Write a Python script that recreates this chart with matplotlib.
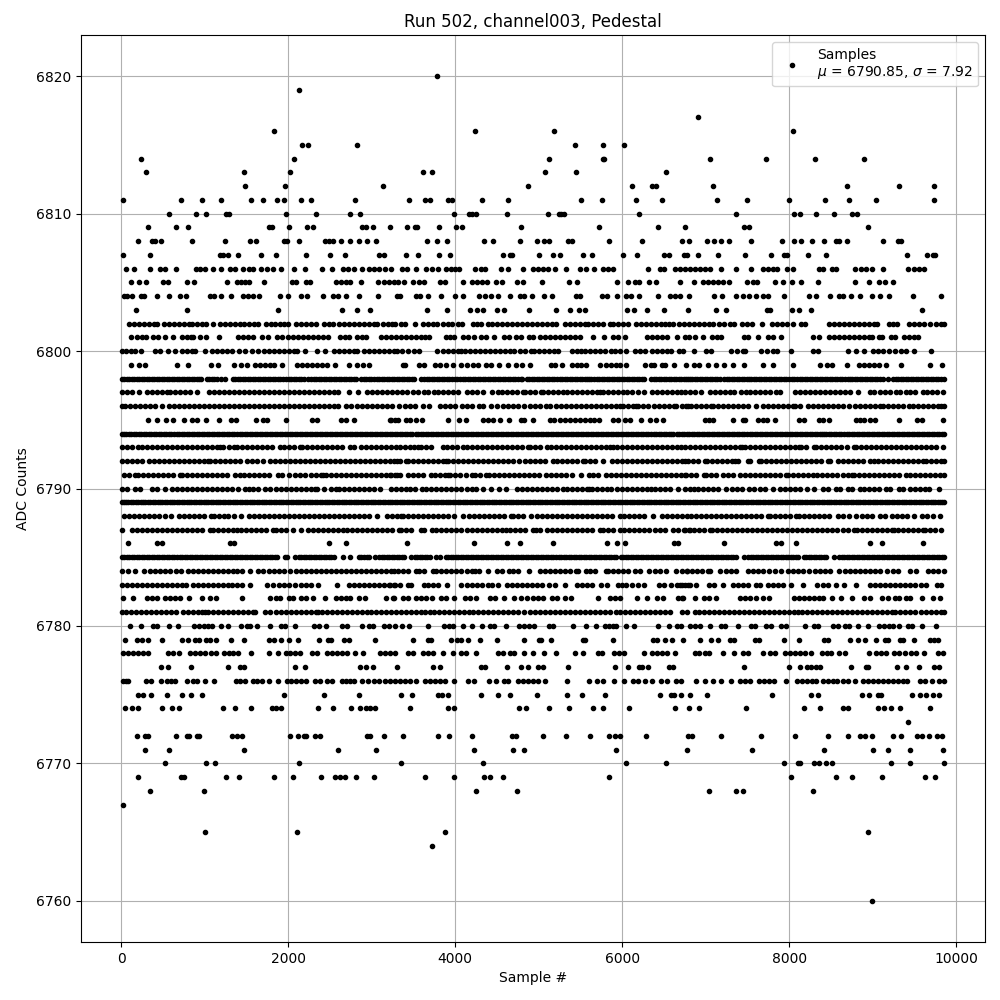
import matplotlib
matplotlib.use("Agg")
import matplotlib.pyplot as plt

adc_6820 = [3780]
adc_6819 = [2124]
adc_6817 = [6912]
adc_6816 = [1824, 4236, 5184, 8052]
adc_6815 = [2160, 2232, 2820, 5436, 5772, 6024]
adc_6814 = [240, 2064, 5124, 5772, 5788, 7056, 7728, 8316, 8892]
adc_6813 = [300, 1476, 2016, 3612, 3720, 5076, 5448, 6528]
adc_6812 = [1488, 1956, 3132, 4872, 6120, 6360, 6408, 7092, 8688, 9312, 9732]
adc_6811 = [24, 720, 972, 1200, 1560, 1704, 1860, 1944, 2148, 2268, 2796, 3444, 3636, 3700, 3912, 3960, 4320, 4632, 5508, 5760, 6168, 6480, 7140, 7500, 8004, 8436, 8712, 9036, 9732]
adc_6810 = [576, 892, 1020, 1260, 1296, 1968, 2328, 2736, 2856, 3984, 4164, 4200, 4252, 4620, 5112, 5244, 5272, 5308, 6204, 7368, 8064, 8136, 8328, 8544, 8748, 8808]
adc_6809 = [324, 660, 804, 1776, 1804, 2004, 2220, 2292, 2880, 2928, 3012, 3216, 3420, 3516, 3544, 3804, 4008, 4080, 4788, 5724, 6432, 6756, 7464, 7524, 8948]
adc_6808 = [204, 372, 404, 480, 852, 1244, 1548, 1620, 1944, 1984, 2124, 2436, 2484, 2532, 2628, 2736, 2844, 2940, 3048, 3660, 3780, 3900, 4344, 4452, 4776, 4980, 5064, 5124, 5352, 5400, 5844, 6240, 6720, 6804, 7020, 7104, 7188, 7284, 7548, 7920, 8064, 8148, 8280, 8424, 8568, 8604, 8688, 9120, 9300, 9336]
adc_6807 = [24, 348, 1188, 1224, 1284, 1404, 1680, 1848, 2208, 2496, 2676, 3084, 3144, 3408, 3552, 3804, 3936, 4572, 4656, 4680, 5004, 5172, 5256, 5532, 5640, 6012, 6180, 6504, 6564, 6744, 6780, 6912, 7152, 7476, 7788, 7944, 7980, 8232, 8448, 9408, 9648, 9720, 9744]
adc_6806 = [60, 156, 348, 468, 524, 660, 900, 948, 1008, 1104, 1200, 1308, 1368, 1464, 1536, 1584, 1680, 1752, 1812, 1908, 2064, 2196, 2400, 2520, 2652, 2712, 2784, 2880, 2964, 3024, 3084, 3156, 3228, 3360, 3420, 3528, 3648, 3720, 3792, 3888, 3948, 3996, 4044, 4236, 4308, 4356, 4548, 4632, 4812, 4932, 4992, 5052, 5112, 5196, 5328, 5496, 5568, 5664, 5772, 5832, 5892, 6312, 6456, 6504, 6636, 6696, 6756, 6816, 6876, 6936, 6996, 7056, 7188, 7368, 7548, 7692, 7752, 7812, 7860, 7980, 8052, 8364, 8412, 8520, 8568, 8784, 8856, 8916, 8988, 9120, 9420, 9492, 9552, 9612]
adc_6805 = [116, 212, 300, 504, 564, 792, 876, 1264, 1392, 1440, 1488, 1536, 1716, 2040, 2088, 2208, 2256, 2568, 2628, 2688, 2736, 2868, 3072, 3144, 3204, 3264, 3312, 3384, 3492, 3564, 3624, 3816, 3876, 4092, 4200, 4260, 4320, 4380, 4488, 4560, 4740, 4812, 5040, 5364, 5460, 5940, 6072, 6156, 6204, 6324, 6408, 6696, 6864, 6972, 7032, 7092, 7152, 7212, 7284, 7500, 7572, 7620, 7836, 7932, 8040, 8148, 8352, 8784, 8952, 9072, 9144, 9240]
adc_6804 = [36, 72, 132, 240, 276, 432, 576, 708, 780, 1068, 1116, 1200, 1320, 1464, 1524, 1584, 1656, 1900, 2000, 2148, 2220, 2412, 2532, 2592, 2696, 2844, 3072, 3300, 3336, 3528, 3576, 3672, 3828, 3996, 4092, 4284, 4356, 4428, 4512, 4656, 4776, 4824, 4920, 5064, 5160, 5448, 5496, 5760, 5820, 5940, 6048, 6108, 6204, 6432, 6576, 6636, 6696, 6804, 7104, 7200, 7368, 7452, 7524, 7608, 7692, 7752, 7944, 8244, 8328, 8496, 8604, 8640, 8736, 8844, 8988, 9084, 9192, 9480, 9816]
adc_6803 = [180, 792, 1872, 2640, 2820, 2976, 3660, 3900, 4176, 4260, 4332, 4500, 4584, 4884, 5208, 5376, 5484, 5556, 6060, 6144, 6300, 6504, 6792, 7128, 7248, 7740, 7772, 8040, 8124, 8268, 9596]
adc_6802 = [92, 150, 212, 268, 330, 392, 424, 510, 570, 628, 690, 748, 806, 844, 910, 968, 1020, 1096, 1180, 1240, 1300, 1360, 1418, 1476, 1530, 1590, 1644, 1730, 1790, 1846, 1900, 1944, 2000, 2090, 2150, 2210, 2270, 2336, 2430, 2488, 2540, 2610, 2664, 2730, 2790, 2850, 2910, 2970, 3030, 3066, 3130, 3190, 3240, 3284, 3350, 3404, 3516, 3610, 3670, 3730, 3788, 3850, 3910, 3968, 4030, 4084, 4210, 4262, 4304, 4390, 4440, 4500, 4562, 4620, 4680, 4740, 4800, 4860, 4918, 4980, 5040, 5100, 5160, 5212, 5316, 5376, 5436, 5496, 5550, 5596, 5656, 5716, 5776, 5850, 5896, 5956, 6016, 6070, 6168, 6228, 6288, 6348, 6408, 6468, 6510, 6556, 6610, 6676, 6736, 6796, 6856, 6916, 6976, 7036, 7090, 7156, 7216, 7290, 7344, 7436, 7496, 7550, 7672, 7796, 7856, 7916, 7976, 8050, 8144, 8190, 8476, 8536, 8596, 8656, 8716, 8776, 8836, 8896, 8956, 9016, 9050, 9196, 9250, 9290, 9436, 9496, 9556, 9616, 9690, 9756, 9816, 9850]
adc_6801 = [112, 188, 244, 300, 380, 444, 528, 620, 728, 784, 840, 864, 948, 1014, 1176, 1396, 1462, 1520, 1576, 1688, 1762, 1868, 1924, 1996, 2056, 2116, 2176, 2236, 2296, 2356, 2416, 2478, 2620, 2680, 2724, 2820, 2884, 2936, 3108, 3168, 3228, 3288, 3348, 3408, 3468, 3528, 3588, 3644, 3688, 3888, 3940, 3984, 4088, 4148, 4222, 4308, 4368, 4462, 4580, 4644, 4728, 4788, 4882, 4932, 5012, 5072, 5132, 5192, 5252, 5312, 5372, 5432, 5492, 5652, 5784, 5896, 5956, 6030, 6296, 6356, 6416, 6476, 6538, 6652, 6756, 6804, 6876, 6972, 7076, 7136, 7190, 7456, 7510, 7632, 7744, 7812, 7908, 8288, 8362, 8476, 8536, 8596, 8656, 8716, 8776, 8836, 8896, 8956, 8990, 9072, 9112, 9224, 9270, 9376, 9436, 9496, 9550]
adc_6800 = [10, 60, 120, 170, 240, 408, 462, 564, 648, 728, 788, 842, 882, 1008, 1088, 1148, 1208, 1262, 1324, 1408, 1482, 1568, 1642, 1708, 1768, 1828, 1888, 1948, 2008, 2068, 2102, 2196, 2348, 2442, 2548, 2608, 2668, 2728, 2788, 2824, 2904, 2964, 3024, 3084, 3142, 3208, 3268, 3304, 3364, 3436, 3510, 3564, 3780, 3856, 3916, 3976, 4036, 4070, 4120, 4180, 4240, 4300, 4360, 4420, 4480, 4540, 4600, 4660, 4710, 4776, 4836, 4910, 4940, 5008, 5068, 5128, 5190, 5232, 5396, 5456, 5510, 5556, 5616, 5676, 5736, 5796, 5870, 5916, 5976, 6050, 6156, 6216, 6270, 6356, 6416, 6476, 6536, 6590, 6676, 6730, 6856, 7008, 7062, 7308, 7382, 7444, 7476, 7668, 7730, 7808, 7850, 8020, 8288, 8342, 8704, 8804, 8892, 9008, 9068, 9128, 9200, 9268, 9342, 9404, 9496, 9700]
adc_6799 = [116, 212, 284, 672, 804, 1080, 1164, 1356, 1440, 1504, 1600, 1660, 1720, 1780, 1824, 1920, 2108, 2168, 2228, 2288, 2348, 2408, 2468, 2562, 2728, 2822, 2896, 2964, 3380, 3404, 3572, 3624, 3756, 3816, 3890, 3980, 4076, 4138, 4216, 4270, 4368, 4428, 4530, 4632, 4724, 4800, 4892, 5144, 5192, 5280, 5404, 5464, 5510, 5572, 5732, 5808, 5868, 5928, 5970, 6048, 6280, 6352, 6384, 6472, 6512, 6624, 6768, 6864, 6924, 7024, 7124, 7224, 7324, 7464, 7684, 7812, 8048, 8368, 8452, 8516, 8696, 8840, 8900, 8960, 9020, 9080, 9162, 9340, 9688, 9832]
adc_6798 = [4, 64, 124, 184, 244, 304, 364, 424, 484, 544, 604, 664, 724, 784, 844, 904, 958, 1024, 1084, 1144, 1198, 1244, 1334, 1394, 1454, 1514, 1574, 1634, 1694, 1754, 1814, 1874, 1934, 1978, 2004, 2064, 2124, 2184, 2238, 2274, 2334, 2394, 2454, 2514, 2574, 2634, 2694, 2754, 2814, 2878, 2904, 2964, 3024, 3060, 3090, 3150, 3210, 3270, 3330, 3390, 3450, 3510, 3590, 3628, 3688, 3748, 3808, 3868, 3928, 4002, 4028, 4088, 4148, 4208, 4268, 4328, 4388, 4448, 4508, 4568, 4628, 4688, 4748, 4790, 4804, 4860, 4920, 4980, 5040, 5100, 5160, 5220, 5280, 5340, 5400, 5460, 5520, 5580, 5630, 5664, 5724, 5784, 5844, 5904, 5964, 6024, 6084, 6144, 6204, 6264, 6350, 6376, 6436, 6496, 6556, 6616, 6676, 6736, 6790, 6808, 6868, 6928, 6988, 7048, 7108, 7168, 7222, 7256, 7316, 7376, 7436, 7496, 7522, 7548, 7608, 7668, 7728, 7788, 7848, 7908, 7968, 8034, 8064, 8096, 8156, 8216, 8276, 8336, 8396, 8456, 8516, 8576, 8636, 8702, 8728, 8788, 8848, 8908, 8968, 9028, 9088, 9130, 9184, 9248, 9308, 9368, 9428, 9488, 9548, 9608, 9668, 9728, 9788, 9850]
adc_6798_more = [34, 94, 154, 214, 274, 334, 394, 454, 514, 574, 634, 694, 754, 814, 874, 930, 1054, 1114, 1364, 1424, 1484, 1544, 1604, 1664, 1724, 1784, 1844, 1904, 2034, 2094, 2154, 2304, 2364, 2424, 2484, 2544, 2604, 2664, 2724, 2784, 2934, 2994, 3120, 3180, 3240, 3300, 3360, 3420, 3480, 3658, 3718, 3778, 3838, 3898, 3964, 4058, 4118, 4178, 4238, 4298, 4358, 4418, 4478, 4538, 4598, 4658, 4718, 4890, 4950, 5010, 5070, 5130, 5190, 5250, 5310, 5370, 5430, 5490, 5550, 5604, 5694, 5754, 5814, 5874, 5934, 5994, 6054, 6114, 6174, 6234, 6406, 6466, 6526, 6586, 6646, 6706, 6762, 6838, 6898, 6958, 7018, 7078, 7138, 7286, 7346, 7406, 7466, 7578, 7638, 7698, 7758, 7818, 7878, 7938, 8000, 8126, 8186, 8246, 8306, 8366, 8426, 8486, 8546, 8606, 8668, 8758, 8818, 8878, 8938, 8998, 9058, 9278, 9338, 9398, 9458, 9518, 9578, 9638, 9698, 9758, 9818]
adc_6797 = [12, 70, 128, 216, 308, 368, 428, 488, 548, 582, 648, 708, 768, 828, 902, 1048, 1108, 1168, 1228, 1288, 1348, 1408, 1468, 1528, 1588, 1648, 1708, 1768, 1828, 1888, 1948, 2008, 2068, 2128, 2188, 2248, 2308, 2368, 2428, 2488, 2548, 2602, 2724, 2832, 2948, 3008, 3068, 3128, 3188, 3248, 3308, 3368, 3428, 3490, 3556, 3630, 3676, 3750, 3796, 3856, 3916, 3976, 4030, 4136, 4196, 4256, 4330, 4436, 4510, 4556, 4616, 4676, 4736, 4810, 4836, 4896, 4956, 5030, 5056, 5116, 5176, 5236, 5290, 5336, 5396, 5456, 5516, 5576, 5636, 5696, 5730, 5776, 5836, 5896, 5956, 6010, 6056, 6116, 6190, 6260, 6356, 6416, 6476, 6536, 6596, 6656, 6710, 6748, 6808, 6868, 6942, 7048, 7108, 7168, 7228, 7288, 7342, 7428, 7482, 7528, 7588, 7648, 7708, 7768, 7842, 7896, 8068, 8128, 8188, 8248, 8308, 8368, 8428, 8488, 8548, 8608, 8668, 8728, 8822, 8968, 9022, 9088, 9148, 9208, 9282, 9328, 9402, 9448, 9508, 9602, 9648, 9708, 9768, 9842]
adc_6796 = [4, 42, 108, 168, 228, 288, 348, 402, 484, 568, 628, 688, 748, 808, 868, 928, 988, 1048, 1108, 1168, 1228, 1288, 1348, 1408, 1468, 1528, 1588, 1648, 1708, 1768, 1828, 1888, 1948, 2008, 2068, 2128, 2188, 2248, 2308, 2368, 2428, 2488, 2548, 2602, 2688, 2748, 2822, 2880, 2948, 3008, 3068, 3128, 3188, 3242, 3332, 3396, 3456, 3516, 3610, 3684, 3824, 3884, 3944, 4004, 4082, 4136, 4196, 4290, 4336, 4430, 4500, 4576, 4636, 4696, 4756, 4830, 4896, 4956, 5016, 5090, 5136, 5204, 5264, 5324, 5384, 5444, 5504, 5564, 5624, 5684, 5744, 5804, 5864, 5924, 5970, 6008, 6068, 6128, 6170, 6196, 6256, 6316, 6376, 6436, 6496, 6556, 6616, 6650, 6716, 6790, 6768, 6828, 6888, 6948, 7008, 7062, 7088, 7148, 7208, 7268, 7328, 7388, 7448, 7508, 7602, 7688, 7748, 7808, 7868, 7928, 7988, 8042, 8068, 8128, 8222, 8288, 8348, 8408, 8468, 8528, 8588, 8648, 8722, 8788, 8848, 8908, 8968, 9028, 9088, 9122, 9184, 9248, 9308, 9368, 9442, 9488, 9548, 9608, 9668, 9728, 9788, 9822, 9850]
adc_6795 = [324, 424, 536, 624, 752, 844, 904, 1020, 1176, 1312, 1376, 1616, 1704, 1744, 1976, 2284, 2344, 2632, 2696, 2784, 3224, 3284, 3232, 3312, 3412, 3460, 3532, 3600, 3912, 4044, 4124, 4332, 4392, 4452, 4540, 4644, 4792, 4824, 4932, 5132, 5180, 5260, 5320, 5380, 5440, 5500, 5560, 5610, 5660, 5724, 5892, 5952, 6032, 6100, 6228, 6340, 6400, 6492, 6988, 7044, 7092, 7324, 7444, 7476, 7624, 7684, 7732, 7832, 8124, 8184, 8364, 8412, 8476, 8796, 8844, 8892, 8964, 9024, 9316, 9532, 9592, 9844]
adc_6794 = [12, 62, 122, 182, 242, 302, 362, 422, 482, 542, 602, 662, 722, 782, 842, 902, 962, 1022, 1082, 1142, 1202, 1262, 1322, 1382, 1424, 1448, 1508, 1568, 1628, 1688, 1748, 1808, 1868, 1928, 1988, 2048, 2108, 2168, 2228, 2288, 2348, 2408, 2468, 2528, 2588, 2648, 2708, 2768, 2828, 2888, 2948, 3008, 3068, 3128, 3188, 3248, 3308, 3368, 3428, 3488, 3530, 3556, 3616, 3676, 3736, 3796, 3856, 3916, 3976, 4036, 4096, 4156, 4216, 4276, 4336, 4396, 4456, 4516, 4576, 4636, 4696, 4756, 4816, 4876, 4936, 4996, 5056, 5116, 5176, 5236, 5296, 5356, 5416, 5476, 5536, 5596, 5656, 5716, 5776, 5836, 5896, 5956, 6016, 6076, 6136, 6196, 6256, 6316, 6376, 6436, 6496, 6556, 6610, 6656, 6716, 6776, 6836, 6896, 6956, 7016, 7076, 7136, 7196, 7256, 7316, 7376, 7436, 7496, 7556, 7616, 7676, 7736, 7796, 7856, 7916, 7976, 8036, 8096, 8156, 8216, 8276, 8336, 8396, 8422, 8448, 8508, 8568, 8628, 8688, 8748, 8808, 8868, 8928, 8988, 9048, 9108, 9168, 9228, 9288, 9348, 9408, 9468, 9528, 9588, 9648, 9708, 9768, 9828, 9850]
adc_6794_more = [36, 92, 152, 212, 272, 332, 392, 452, 512, 572, 632, 692, 752, 812, 872, 932, 992, 1052, 1112, 1172, 1232, 1292, 1352, 1478, 1538, 1598, 1658, 1718, 1778, 1838, 1898, 1958, 2018, 2078, 2138, 2198, 2258, 2318, 2378, 2438, 2498, 2558, 2618, 2678, 2738, 2798, 2858, 2918, 2978, 3038, 3098, 3158, 3218, 3278, 3338, 3398, 3458, 3586, 3646, 3706, 3766, 3826, 3886, 3946, 4006, 4066, 4126, 4186, 4246, 4306, 4366, 4426, 4486, 4546, 4606, 4666, 4726, 4786, 4846, 4906, 4966, 5026, 5086, 5146, 5206, 5266, 5326, 5386, 5446, 5506, 5566, 5626, 5686, 5746, 5806, 5866, 5926, 5986, 6046, 6106, 6166, 6226, 6286, 6346, 6406, 6466, 6526, 6582, 6686, 6746, 6806, 6866, 6926, 6986, 7046, 7106, 7166, 7226, 7286, 7346, 7406, 7466, 7526, 7586, 7646, 7706, 7766, 7826, 7886, 7946, 8006, 8066, 8126, 8186, 8246, 8306, 8366, 8478, 8538, 8598, 8658, 8718, 8778, 8838, 8898, 8958, 9018, 9078, 9138, 9198, 9258, 9318, 9378, 9438, 9498, 9558, 9618, 9678, 9738, 9798]
adc_6793 = [8, 68, 128, 202, 248, 308, 368, 428, 488, 548, 608, 668, 728, 788, 848, 908, 968, 1028, 1088, 1148, 1182, 1224, 1288, 1348, 1388, 1448, 1508, 1568, 1628, 1688, 1748, 1808, 1902, 1948, 2008, 2068, 2142, 2168, 2228, 2288, 2348, 2408, 2468, 2528, 2588, 2648, 2742, 2792, 2868, 2928, 2988, 3048, 3108, 3168, 3228, 3288, 3342, 3402, 3462, 3510, 3552, 3596, 3656, 3716, 3850, 3904, 3964, 4024, 4098, 4144, 4204, 4264, 4324, 4384, 4444, 4504, 4564, 4624, 4684, 4744, 4804, 4870, 4896, 4956, 5016, 5102, 5144, 5204, 5264, 5324, 5384, 5444, 5504, 5564, 5624, 5684, 5744, 5810, 5852, 5892, 5936, 5996, 6056, 6116, 6176, 6236, 6296, 6356, 6416, 6476, 6536, 6596, 6656, 6710, 6750, 6810, 6870, 6928, 6988, 7048, 7108, 7168, 7228, 7288, 7348, 7408, 7442, 7468, 7528, 7588, 7648, 7708, 7768, 7828, 7888, 7948, 8008, 8068, 8122, 8148, 8208, 8302, 8328, 8388, 8448, 8508, 8568, 8628, 8688, 8782, 8800, 8860, 8920, 8980, 9040, 9100, 9160, 9220, 9280, 9340, 9400, 9460, 9520, 9580, 9640, 9700, 9760, 9842]
adc_6792 = [8, 68, 128, 188, 254, 328, 388, 448, 508, 568, 628, 688, 748, 808, 868, 928, 988, 1042, 1068, 1128, 1188, 1248, 1308, 1368, 1422, 1508, 1568, 1628, 1694, 1780, 1840, 1900, 1960, 2020, 2080, 2140, 2200, 2260, 2320, 2380, 2440, 2500, 2560, 2620, 2680, 2740, 2800, 2860, 2920, 2980, 3040, 3100, 3160, 3220, 3262, 3300, 3340, 3410, 3436, 3496, 3556, 3616, 3676, 3736, 3796, 3856, 3890, 3916, 3976, 4036, 4096, 4156, 4216, 4276, 4336, 4396, 4456, 4516, 4576, 4636, 4696, 4770, 4836, 4896, 4956, 5016, 5076, 5170, 5216, 5276, 5336, 5396, 5456, 5530, 5556, 5616, 5676, 5770, 5876, 5936, 5996, 6056, 6116, 6176, 6236, 6296, 6356, 6416, 6476, 6536, 6596, 6656, 6716, 6750, 6790, 6850, 6910, 6994, 7016, 7076, 7136, 7196, 7256, 7316, 7354, 7388, 7502, 7536, 7642, 7668, 7728, 7788, 7848, 7908, 7968, 8028, 8088, 8148, 8208, 8268, 8328, 8388, 8462, 8492, 8588, 8648, 8708, 8768, 8828, 8888, 8970, 9016, 9068, 9128, 9188, 9248, 9308, 9368, 9428, 9488, 9548, 9602, 9640, 9700, 9760, 9820, 9850]
adc_6791 = [28, 88, 162, 196, 256, 316, 376, 436, 496, 556, 616, 702, 728, 788, 848, 908, 968, 1028, 1088, 1148, 1208, 1268, 1362, 1424, 1476, 1536, 1596, 1656, 1716, 1776, 1882, 1920, 2008, 2080, 2140, 2202, 2268, 2328, 2388, 2422, 2448, 2508, 2568, 2628, 2688, 2748, 2808, 2868, 2928, 2988, 3048, 3108, 3168, 3228, 3302, 3216, 3276, 3336, 3430, 3496, 3556, 3616, 3710, 3760, 3816, 3876, 3910, 3944, 4004, 4064, 4124, 4202, 4236, 4296, 4370, 4400, 4460, 4520, 4580, 4640, 4700, 4760, 4820, 4880, 4940, 5000, 5090, 5144, 5204, 5264, 5324, 5402, 5504, 5604, 5656, 5716, 5810, 5864, 5924, 5984, 6044, 6104, 6164, 6224, 6284, 6344, 6404, 6464, 6524, 6584, 6644, 6704, 6750, 6764, 6824, 6884, 6982, 7008, 7068, 7122, 7208, 7268, 7328, 7410, 7476, 7536, 7596, 7656, 7716, 7776, 7836, 7896, 7962, 7988, 8048, 8108, 8168, 8228, 8282, 8336, 8400, 8460, 8520, 8580, 8640, 8700, 8754, 8780, 8840, 8900, 8960, 9020, 9080, 9140, 9200, 9260, 9320, 9402, 9448, 9508, 9568, 9628, 9688, 9748, 9808, 9850]
adc_6790 = [4, 70, 160, 222, 368, 428, 522, 608, 668, 728, 788, 848, 908, 968, 1028, 1088, 1148, 1208, 1268, 1328, 1402, 1484, 1528, 1576, 1640, 1728, 1782, 1848, 1908, 1968, 2028, 2088, 2148, 2208, 2268, 2322, 2348, 2430, 2508, 2574, 2608, 2668, 2728, 2788, 2848, 2908, 2968, 3028, 3102, 3228, 3288, 3348, 3410, 3456, 3520, 3602, 3656, 3716, 3776, 3836, 3896, 3956, 4016, 4076, 4136, 4196, 4250, 4336, 4430, 4528, 4610, 4736, 4796, 4856, 4916, 4976, 5036, 5096, 5156, 5216, 5290, 5336, 5396, 5456, 5516, 5576, 5600, 5636, 5696, 5756, 5816, 5870, 5936, 5996, 6056, 6116, 6176, 6236, 6296, 6350, 6396, 6456, 6516, 6576, 6670, 6748, 6808, 6862, 6908, 6968, 7028, 7088, 7148, 7242, 7320, 7380, 7440, 7522, 7580, 7648, 7708, 7802, 7888, 7948, 8008, 8068, 8130, 8212, 8304, 8408, 8468, 8562, 8608, 8702, 8756, 8852, 8896, 8956, 9016, 9076, 9162, 9208, 9314, 9364, 9448, 9508, 9568, 9628, 9682, 9800]
adc_6789 = [10, 58, 116, 174, 232, 290, 348, 406, 464, 522, 580, 638, 696, 754, 812, 870, 928, 986, 1044, 1102, 1160, 1218, 1276, 1334, 1392, 1450, 1508, 1566, 1624, 1682, 1740, 1798, 1856, 1914, 1972, 2030, 2088, 2146, 2204, 2262, 2320, 2378, 2436, 2494, 2552, 2610, 2668, 2726, 2784, 2842, 2900, 2958, 3016, 3074, 3132, 3190, 3248, 3306, 3364, 3422, 3480, 3538, 3596, 3654, 3712, 3770, 3828, 3886, 3944, 4002, 4060, 4118, 4176, 4234, 4292, 4350, 4408, 4466, 4524, 4582, 4640, 4698, 4756, 4814, 4872, 4930, 4988, 5046, 5104, 5162, 5220, 5278, 5336, 5394, 5452, 5510, 5568, 5626, 5684, 5742, 5800, 5858, 5916, 5974, 6032, 6090, 6148, 6206, 6264, 6322, 6380, 6438, 6496, 6554, 6612, 6670, 6728, 6786, 6844, 6902, 6960, 7018, 7076, 7134, 7192, 7250, 7308, 7366, 7424, 7482, 7540, 7598, 7656, 7714, 7772, 7830, 7888, 7946, 8016, 8072, 8130, 8188, 8246, 8304, 8362, 8420, 8478, 8536, 8594, 8652, 8710, 8768, 8826, 8884, 8942, 9000, 9058, 9116, 9174, 9232, 9290, 9348, 9406, 9464, 9522, 9580, 9638, 9696, 9754, 9812, 9855]
adc_6789_more = [34, 87, 145, 203, 261, 319, 377, 435, 493, 551, 609, 667, 725, 783, 841, 899, 957, 1015, 1073, 1131, 1189, 1247, 1305, 1363, 1421, 1479, 1537, 1595, 1653, 1711, 1769, 1827, 1885, 1943, 2001, 2059, 2117, 2175, 2233, 2291, 2349, 2407, 2465, 2523, 2581, 2639, 2697, 2755, 2813, 2871, 2929, 2987, 3045, 3103, 3161, 3219, 3277, 3335, 3393, 3451, 3509, 3567, 3625, 3683, 3741, 3799, 3857, 3915, 3973, 4031, 4089, 4147, 4205, 4263, 4321, 4379, 4437, 4495, 4553, 4611, 4669, 4727, 4785, 4843, 4901, 4959, 5017, 5075, 5133, 5191, 5249, 5307, 5365, 5423, 5481, 5539, 5597, 5655, 5713, 5771, 5829, 5887, 5945, 6003, 6061, 6119, 6177, 6235, 6293, 6351, 6409, 6467, 6525, 6583, 6641, 6699, 6757, 6815, 6873, 6931, 6989, 7047, 7105, 7163, 7221, 7279, 7337, 7395, 7453, 7511, 7569, 7627, 7685, 7743, 7801, 7859, 7917, 7975, 8044, 8101, 8159, 8217, 8275, 8333, 8391, 8449, 8507, 8565, 8623, 8681, 8739, 8797, 8855, 8913, 8971, 9029, 9087, 9145, 9203, 9261, 9319, 9377, 9435, 9493, 9551, 9609, 9667, 9725, 9783, 9835]
adc_6788 = [28, 88, 148, 208, 268, 328, 388, 448, 522, 592, 688, 748, 808, 868, 928, 988, 1070, 1108, 1168, 1228, 1282, 1348, 1430, 1528, 1588, 1648, 1708, 1768, 1828, 1888, 1948, 2008, 2068, 2128, 2188, 2248, 2308, 2368, 2428, 2488, 2548, 2608, 2668, 2728, 2788, 2848, 2908, 2968, 3062, 3188, 3248, 3308, 3350, 3376, 3436, 3496, 3556, 3616, 3676, 3736, 3796, 3856, 3916, 3990, 4092, 4168, 4228, 4288, 4348, 4408, 4468, 4528, 4588, 4670, 4696, 4756, 4816, 4910, 4984, 5044, 5104, 5164, 5224, 5284, 5344, 5404, 5464, 5524, 5584, 5644, 5704, 5764, 5824, 5884, 5970, 6028, 6088, 6148, 6208, 6268, 6370, 6476, 6536, 6596, 6656, 6716, 6782, 6828, 6888, 6948, 7008, 7068, 7128, 7188, 7248, 7308, 7368, 7428, 7488, 7548, 7608, 7668, 7742, 7768, 7828, 7888, 7948, 8008, 8082, 8120, 8180, 8240, 8300, 8360, 8420, 8480, 8582, 8648, 8720, 8802, 8868, 8928, 8988, 9094, 9152, 9228, 9288, 9348, 9408, 9502, 9588, 9648, 9722, 9808]
adc_6787 = [4, 128, 188, 248, 308, 368, 428, 488, 548, 608, 668, 728, 788, 848, 908, 968, 1062, 1100, 1160, 1220, 1280, 1340, 1390, 1436, 1496, 1556, 1616, 1676, 1736, 1822, 1856, 1916, 1976, 2062, 2148, 2236, 2296, 2356, 2416, 2476, 2536, 2596, 2662, 2708, 2768, 2828, 2888, 2948, 3008, 3068, 3128, 3188, 3248, 3330, 3356, 3416, 3476, 3590, 3624, 3722, 3776, 3836, 3896, 3956, 4016, 4076, 4136, 4196, 4256, 4316, 4376, 4436, 4496, 4556, 4610, 4656, 4716, 4776, 4836, 4930, 4968, 5018, 5096, 5156, 5216, 5276, 5336, 5396, 5456, 5516, 5576, 5636, 5730, 5768, 5828, 5888, 5978, 6028, 6088, 6148, 6208, 6268, 6328, 6388, 6448, 6508, 6610, 6664, 6752, 6812, 6736, 6796, 6856, 6916, 6976, 7050, 7080, 7140, 7200, 7260, 7320, 7380, 7440, 7500, 7560, 7620, 7680, 7740, 7800, 7860, 7920, 7980, 8040, 8100, 8160, 8220, 8280, 8340, 8400, 8460, 8520, 8580, 8640, 8700, 8782, 8808, 8868, 8928, 8988, 9048, 9108, 9168, 9228, 9262, 9300, 9360, 9420, 9480, 9540, 9602, 9628, 9688, 9748, 9822]
adc_6786 = [84, 432, 484, 1304, 1356, 2484, 2692, 3420, 4224, 4620, 4776, 5172, 5820, 5944, 6036, 6624, 6672, 7216, 7844, 7900, 8080, 8968, 9112, 9604]
adc_6785 = [8, 68, 128, 188, 248, 308, 368, 428, 488, 548, 608, 668, 728, 788, 848, 908, 968, 1028, 1088, 1148, 1208, 1268, 1328, 1388, 1448, 1508, 1568, 1628, 1688, 1748, 1808, 1868, 1962, 1988, 2082, 2128, 2188, 2248, 2308, 2368, 2428, 2488, 2548, 2662, 2736, 2848, 2908, 2968, 3042, 3088, 3148, 3208, 3268, 3328, 3388, 3470, 3516, 3576, 3636, 3696, 3770, 3820, 3888, 3948, 4008, 4068, 4128, 4188, 4248, 4308, 4368, 4428, 4488, 4548, 4608, 4668, 4728, 4788, 4848, 4908, 4968, 5028, 5088, 5148, 5208, 5268, 5328, 5388, 5448, 5508, 5568, 5628, 5688, 5748, 5808, 5868, 5930, 5984, 6044, 6104, 6164, 6224, 6284, 6344, 6404, 6464, 6524, 6584, 6644, 6704, 6764, 6824, 6884, 6944, 7004, 7064, 7124, 7184, 7244, 7304, 7364, 7462, 7508, 7568, 7628, 7688, 7748, 7808, 7868, 7928, 7988, 8048, 8108, 8182, 8208, 8268, 8328, 8388, 8448, 8542, 8600, 8660, 8720, 8780, 8840, 8900, 8960, 9020, 9080, 9140, 9200, 9260, 9320, 9380, 9440, 9500, 9560, 9620, 9680, 9740, 9800, 9850]
adc_6785_more = [38, 98, 158, 218, 278, 338, 398, 458, 518, 578, 638, 698, 758, 818, 878, 938, 998, 1058, 1118, 1178, 1238, 1298, 1358, 1418, 1478, 1538, 1598, 1658, 1718, 1778, 1838, 2158, 2218, 2278, 2338, 2398, 2458, 2518, 2878, 2938, 3118, 3178, 3238, 3298, 3358, 3546, 3606, 3666, 3918, 3978, 4038, 4098, 4158, 4218, 4278, 4338, 4398, 4458, 4518, 4578, 4638, 4698, 4758, 4818, 4878, 4938, 4998, 5058, 5118, 5178, 5238, 5298, 5358, 5418, 5478, 5538, 5598, 5658, 5718, 5778, 5838, 5898, 6014, 6074, 6134, 6194, 6254, 6314, 6374, 6434, 6494, 6554, 6614, 6674, 6734, 6794, 6854, 6914, 6974, 7034, 7094, 7154, 7214, 7274, 7334, 7538, 7598, 7658, 7718, 7778, 7838, 7898, 7958, 8018, 8078, 8238, 8298, 8358, 8418, 8630, 8690, 8750, 8810, 8870, 8930, 8990, 9050, 9110, 9170, 9230, 9290, 9350, 9410, 9470, 9530, 9590, 9650, 9710, 9770, 9826]
adc_6784 = [4, 82, 168, 270, 348, 408, 468, 528, 590, 660, 720, 802, 856, 916, 976, 1036, 1096, 1156, 1216, 1276, 1336, 1382, 1448, 1548, 1644, 1702, 1768, 1828, 1888, 1948, 2022, 2096, 2156, 2210, 2276, 2336, 2396, 2456, 2516, 2576, 2636, 2696, 2756, 2816, 2876, 2936, 2996, 3056, 3116, 3176, 3262, 3232, 3316, 3376, 3436, 3530, 3568, 3628, 3730, 3776, 3836, 3896, 3956, 4016, 4076, 4136, 4202, 4236, 4290, 4392, 4496, 4556, 4650, 4696, 4756, 4890, 5016, 5076, 5136, 5196, 5256, 5316, 5376, 5450, 5476, 5570, 5616, 5676, 5802, 5836, 5896, 5956, 6016, 6076, 6150, 6220, 6328, 6388, 6448, 6522, 6644, 6772, 6720, 6780, 6840, 6900, 6960, 7034, 7056, 7170, 7240, 7300, 7362, 7508, 7562, 7624, 7688, 7762, 7828, 7902, 7988, 8048, 8108, 8168, 8234, 8308, 8368, 8428, 8488, 8594, 8668, 8728, 8788, 8848, 8908, 8968, 9034, 9088, 9170, 9240, 9302, 9448, 9522, 9668, 9728, 9788, 9850]
adc_6783 = [8, 68, 128, 188, 248, 308, 368, 428, 488, 548, 608, 668, 728, 774, 860, 920, 980, 1040, 1100, 1160, 1220, 1282, 1328, 1388, 1448, 1542, 1748, 1822, 1888, 1948, 2008, 2082, 2148, 2208, 2268, 2362, 2584, 2728, 2788, 2848, 2908, 2968, 3028, 3088, 3148, 3208, 3262, 3216, 3276, 3336, 3430, 3476, 3630, 3676, 3736, 3796, 3898, 4076, 4136, 4196, 4256, 4316, 4390, 4436, 4510, 4616, 4676, 4736, 4796, 4856, 4916, 4976, 5036, 5122, 5192, 5312, 5456, 5516, 5576, 5636, 5750, 5816, 5950, 5996, 6050, 6116, 6190, 6260, 6436, 6496, 6590, 6656, 6716, 6790, 6688, 6748, 6808, 6890, 7040, 7100, 7214, 7324, 7388, 7448, 7508, 7602, 7648, 7748, 7808, 7868, 7928, 8022, 8172, 8332, 8412, 8464, 8568, 8662, 8796, 8968, 9028, 9088, 9148, 9208, 9268, 9328, 9388, 9448, 9508, 9582, 9644, 9768, 9822]
adc_6782 = [24, 144, 308, 368, 428, 522, 588, 648, 708, 814, 964, 1064, 1136, 1452, 1788, 1848, 1902, 2008, 2062, 2152, 2212, 2294, 2436, 2568, 2628, 2688, 2742, 2848, 2922, 3168, 3262, 3252, 3376, 3436, 3530, 3596, 3650, 3720, 3836, 3896, 3990, 4116, 4176, 4250, 4416, 4476, 4590, 4704, 4790, 4860, 4936, 4996, 5050, 5164, 5224, 5310, 5392, 5712, 5856, 5916, 5970, 6176, 6298, 6416, 6490, 6672, 6724, 6716, 6868, 6976, 7036, 7130, 7408, 7468, 7530, 7608, 7682, 7764, 8056, 8116, 8176, 8236, 8296, 8356, 8410, 8516, 8624, 8752, 8896, 8964, 9108, 9182, 9268, 9322, 9404, 9452, 9596, 9728, 9802]
adc_6781 = [10, 60, 120, 180, 240, 300, 360, 420, 480, 540, 600, 654, 740, 800, 860, 920, 962, 1000, 1036, 1096, 1156, 1216, 1276, 1336, 1396, 1456, 1516, 1576, 1602, 1728, 1788, 1848, 1908, 1968, 2028, 2088, 2148, 2208, 2268, 2328, 2362, 2408, 2468, 2528, 2588, 2648, 2708, 2768, 2828, 2888, 2942, 2988, 3048, 3108, 3168, 3228, 3288, 3348, 3408, 3468, 3528, 3588, 3642, 3700, 3748, 3808, 3868, 3928, 3988, 4048, 4108, 4168, 4214, 4268, 4328, 4388, 4448, 4508, 4568, 4628, 4688, 4748, 4828, 4896, 4956, 5016, 5076, 5136, 5196, 5256, 5316, 5376, 5436, 5496, 5556, 5616, 5676, 5736, 5796, 5856, 5930, 5976, 6036, 6096, 6156, 6216, 6276, 6336, 6396, 6456, 6516, 6570, 6716, 6776, 6870, 6916, 6976, 7036, 7096, 7156, 7216, 7276, 7336, 7396, 7456, 7516, 7576, 7636, 7696, 7756, 7816, 7876, 7936, 7996, 8056, 8110, 8156, 8216, 8276, 8336, 8396, 8456, 8516, 8576, 8636, 8696, 8756, 8816, 8876, 8936, 8996, 9056, 9116, 9176, 9230, 9270, 9330, 9390, 9450, 9510, 9584, 9644, 9704, 9764, 9824, 9850]
adc_6780 = [104, 240, 384, 432, 576, 684, 876, 936, 996, 1044, 1092, 1200, 1284, 1440, 1512, 1548, 1632, 1788, 1908, 1956, 2076, 2304, 2364, 2448, 2640, 2700, 2880, 2964, 3012, 3144, 3204, 3276, 3360, 3444, 3672, 3864, 3924, 3972, 4092, 4200, 4320, 4416, 4464, 4608, 4764, 4824, 4884, 4944, 5124, 5172, 5412, 5568, 5688, 5796, 5844, 5892, 5928, 6048, 6144, 6432, 6564, 6660, 6708, 6816, 6876, 6936, 7056, 7188, 7236, 7392, 7548, 7596, 7728, 7788, 7908, 7968, 8196, 8304, 8352, 8532, 8592, 8664, 8712, 8820, 8940, 9072, 9132, 9192, 9240, 9312, 9420, 9468, 9588, 9756]
adc_6779 = [48, 192, 252, 324, 492, 732, 804, 888, 936, 1020, 1068, 1140, 1320, 1476, 1776, 1824, 1908, 2004, 2112, 2364, 2472, 2508, 2664, 2724, 3036, 3492, 3672, 3708, 3948, 4020, 4068, 4152, 4296, 4500, 4824, 5004, 5028, 5148, 5532, 5556, 5892, 6372, 6420, 6516, 6600, 6732, 6936, 7068, 7152, 7296, 7344, 7596, 7644, 7944, 8124, 8424, 8472, 8724, 8820, 8904, 9036, 9144, 9180, 9324, 9360, 9492, 9684, 9732, 9780]
adc_6778 = [24, 84, 144, 204, 264, 324, 564, 624, 696, 828, 888, 948, 1008, 1080, 1140, 1236, 1296, 1344, 1404, 1560, 1776, 1872, 1968, 2016, 2076, 2136, 2280, 2340, 2460, 2520, 2580, 2640, 2700, 2796, 2892, 3096, 3156, 3216, 3276, 3432, 3492, 3612, 3672, 3732, 3852, 3972, 4068, 4128, 4248, 4512, 4572, 4656, 4704, 4824, 4932, 5064, 5208, 5436, 5532, 5712, 5760, 5904, 5964, 6024, 6264, 6360, 6420, 6480, 6540, 6636, 6876, 6924, 6996, 7044, 7212, 7344, 7452, 7512, 7692, 7776, 7836, 7956, 8016, 8076, 8136, 8196, 8268, 8400, 8460, 8508, 8604, 8664, 8952, 9036, 9096, 9156, 9252, 9312, 9384, 9456, 9516, 9612, 9780, 9840]
adc_6777 = [480, 564, 840, 1284, 1428, 1476, 2076, 2196, 2856, 2928, 3012, 3300, 3732, 3816, 4308, 4356, 4620, 4788, 4872, 4992, 5052, 5352, 5916, 6072, 6204, 6240, 6312, 6564, 6612, 7464, 8004, 8136, 8220, 8268, 8328, 8376, 8736, 8916, 8940, 9288, 9396, 9552, 9732, 9792]
adc_6776 = [24, 60, 84, 300, 360, 480, 552, 600, 648, 792, 864, 912, 1008, 1116, 1380, 1428, 1488, 1584, 1632, 1692, 1776, 1872, 1980, 2028, 2088, 2148, 2208, 2316, 2376, 2460, 2520, 2640, 2688, 2736, 2784, 2880, 2952, 3024, 3084, 3156, 3216, 3276, 3336, 3396, 3456, 3528, 3636, 3696, 3756, 3816, 3876, 3984, 4152, 4224, 4404, 4488, 4584, 4632, 4752, 4812, 4872, 4932, 4992, 5076, 5340, 5604, 5700, 5772, 5904, 6024, 6132, 6192, 6276, 6360, 6468, 6540, 6648, 6708, 6888, 6996, 7092, 7188, 7308, 7416, 7476, 7536, 7644, 7704, 7764, 7824, 7968, 8100, 8160, 8220, 8280, 8328, 8412, 8472, 8532, 8580, 8640, 8700, 8784, 8880, 8940, 9000, 9060, 9120, 9180, 9240, 9300, 9360, 9408, 9564, 9624, 9708, 9792, 9850]
adc_6775 = [204, 264, 360, 552, 732, 840, 972, 1944, 2424, 2844, 3348, 3480, 3792, 3840, 3912, 4308, 4512, 4656, 4980, 5340, 5520, 5796, 6456, 6588, 6624, 6708, 6816, 7020, 7800, 8268, 8352, 8868, 8952, 9060, 9096, 9468, 9564, 9636, 9720, 9792]
adc_6774 = [48, 132, 204, 492, 612, 696, 1224, 1368, 1560, 1800, 1848, 1908, 2352, 2532, 2748, 2856, 2928, 2976, 3036, 3456, 3912, 3984, 4764, 4848, 5124, 5364, 5652, 5772, 6084, 6636, 6804, 6924, 7488, 8184, 8376, 8640, 8700, 9060, 9132, 9216, 9324, 9684]
adc_6773 = [9420]
adc_6772 = [192, 288, 324, 660, 792, 816, 912, 936, 1332, 1392, 1452, 2016, 2112, 2184, 2208, 2316, 2376, 2940, 2976, 3144, 3372, 3792, 3924, 4200, 4680, 4728, 5052, 5328, 5616, 5844, 5916, 5976, 6288, 6792, 6840, 7188, 7668, 8076, 8472, 8700, 8844, 8904, 8988, 9240, 9336, 9528, 9588, 9672, 9768, 9828]
adc_6771 = [288, 576, 1476, 2592, 3048, 4224, 4692, 4824, 5928, 6780, 7560, 8424, 9000, 9180, 9444, 9840]
adc_6770 = [528, 1020, 1128, 2124, 3348, 4332, 6048, 6528, 7944, 8112, 8136, 8304, 8364, 8448, 8520, 9216, 9444, 9850]
adc_6769 = [204, 720, 752, 1260, 1416, 1824, 2052, 2388, 2556, 2616, 2676, 2808, 3024, 3636, 3984, 4344, 4416, 4572, 5844, 8028, 8568, 8748, 9108, 9624, 9744]
adc_6768 = [348, 996, 4248, 4740, 7044, 7368, 7452, 8292]
adc_6767 = [24]
adc_6765 = [1008, 2100, 3876, 8940]
adc_6764 = [3720]
adc_6760 = [8988]

levels = [6820, 6819, 6817, 6816, 6815, 6814, 6813, 6812, 6811, 6810, 6809, 6808, 6807, 6806, 6805, 6804, 6803, 6802, 6801, 6800, 6799, 6798, 6798, 6797, 6796, 6795, 6794, 6794, 6793, 6792, 6791, 6790, 6789, 6789, 6788, 6787, 6786, 6785, 6785, 6784, 6783, 6782, 6781, 6780, 6779, 6778, 6777, 6776, 6775, 6774, 6773, 6772, 6771, 6770, 6769, 6768, 6767, 6765, 6764, 6760]
samples_by_level = [adc_6820, adc_6819, adc_6817, adc_6816, adc_6815, adc_6814, adc_6813, adc_6812, adc_6811, adc_6810, adc_6809, adc_6808, adc_6807, adc_6806, adc_6805, adc_6804, adc_6803, adc_6802, adc_6801, adc_6800, adc_6799, adc_6798, adc_6798_more, adc_6797, adc_6796, adc_6795, adc_6794, adc_6794_more, adc_6793, adc_6792, adc_6791, adc_6790, adc_6789, adc_6789_more, adc_6788, adc_6787, adc_6786, adc_6785, adc_6785_more, adc_6784, adc_6783, adc_6782, adc_6781, adc_6780, adc_6779, adc_6778, adc_6777, adc_6776, adc_6775, adc_6774, adc_6773, adc_6772, adc_6771, adc_6770, adc_6769, adc_6768, adc_6767, adc_6765, adc_6764, adc_6760]

xs, ys = [], []
for level, samples in zip(levels, samples_by_level):
    xs.extend(samples)
    ys.extend([level] * len(samples))

fig, ax = plt.subplots(figsize=(10, 10), dpi=100)
ax.plot(xs, ys, "k.", label="Samples\n$\\mu$ = 6790.85, $\\sigma$ = 7.92")
ax.set_xlim(-482, 10347)
ax.set_xlabel("Sample #")
ax.set_ylabel("ADC Counts")
ax.set_title("Run 502, channel003, Pedestal")
ax.grid(True)
ax.legend(loc="upper right")
fig.subplots_adjust(left=0.081, right=0.985, top=0.965, bottom=0.058)
fig.savefig("out.png", dpi=100)
